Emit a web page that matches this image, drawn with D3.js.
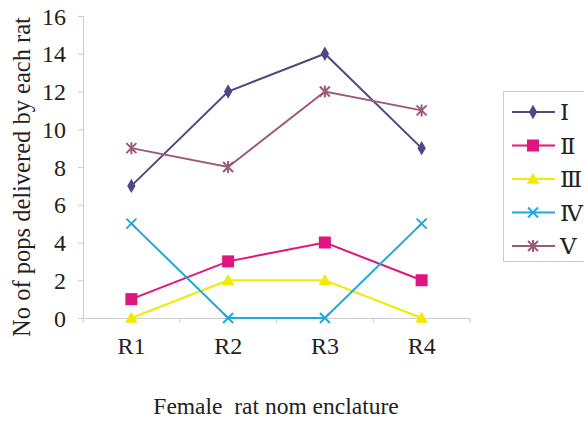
<!DOCTYPE html>
<html>
<head>
<meta charset="utf-8">
<script src="https://cdn.jsdelivr.net/npm/d3@7"></script>
<style>
  body { margin: 0; background: #fff; }
</style>
</head>
<body>
<svg width="584" height="423"></svg>
<script>
// categories along the x axis
var rats = ["R1", "R2", "R3", "R4"];
// one array per series
var seriesNames = ["Ⅰ", "Ⅱ", "Ⅲ", "Ⅳ", "Ⅴ"];
var valsI = [7, 12, 14, 9];
var valsII = [1, 3, 4, 2];
var valsIII = [0, 2, 2, 0];
var valsIV = [5, 0, 0, 5];
var valsV = [9, 8, 12, 11];
var yTicks = [0, 2, 4, 6, 8, 10, 12, 14, 16];

var colors = ["#4b4a85", "#e0157f", "#f2ea00", "#1fa8e0", "#9c5a78"];
var shapes = ["diamond", "square", "triangle", "x", "star"];
var serif = "'Liberation Serif', 'DejaVu Serif', serif";

var series = [valsI, valsII, valsIII, valsIV, valsV].map(function(v, i) {
  return {name: seriesNames[i], values: v, color: colors[i], shape: shapes[i]};
});

var svg = d3.select("svg");
var plotL = 83, plotR = 470, plotT = 16, plotB = 318;

var x = d3.scaleBand().domain(rats).range([plotL, plotR]);
var y = d3.scaleLinear().domain([0, 16]).range([plotB, plotT]);

// axes
var yAxis = svg.append("g").attr("transform", "translate(" + plotL + ",0)")
  .call(d3.axisLeft(y).tickValues(yTicks).tickSize(5).tickPadding(12));
var xAxis = svg.append("g").attr("transform", "translate(0," + plotB + ")")
  .call(d3.axisBottom(x).tickSize(0).tickPadding(19));

[yAxis, xAxis].forEach(function(a) {
  a.attr("font-family", null);
  a.select(".domain").attr("stroke", "#cccccc");
  a.selectAll(".tick line").attr("stroke", "#cccccc");
  a.selectAll("text").style("font-family", serif).style("font-size", "24px").attr("fill", "#222");
});
yAxis.selectAll("text").attr("dy", "0.34em");

// x tick marks sit at the band edges
svg.append("g").selectAll("line")
  .data(rats.map(function(r) { return x(r); }).concat([plotR]))
  .enter().append("line")
  .attr("x1", function(d) { return d; })
  .attr("x2", function(d) { return d; })
  .attr("y1", plotB).attr("y2", plotB + 5)
  .attr("stroke", "#cccccc");

function cx(i) { return x(rats[i]) + x.bandwidth() / 2; }

function marker(g, shape, color, px, py) {
  if (shape === "diamond") {
    g.append("path").attr("d", d3.symbol(d3.symbolDiamond, 60)())
      .attr("transform", "translate(" + px + "," + py + ")").attr("fill", color);
  } else if (shape === "square") {
    g.append("rect").attr("x", px - 6).attr("y", py - 6).attr("width", 12).attr("height", 12).attr("fill", color);
  } else if (shape === "triangle") {
    g.append("path").attr("d", d3.symbol(d3.symbolTriangle, 70)())
      .attr("transform", "translate(" + px + "," + (py + 1) + ")").attr("fill", color);
  } else if (shape === "x") {
    g.append("path").attr("d", "M-5,-5L5,5M-5,5L5,-5")
      .attr("transform", "translate(" + px + "," + py + ")")
      .attr("stroke", color).attr("stroke-width", 2).attr("fill", "none");
  } else {
    g.append("path").attr("d", "M-5,-5L5,5M-5,5L5,-5M0,-6L0,6")
      .attr("transform", "translate(" + px + "," + py + ")")
      .attr("stroke", color).attr("stroke-width", 2).attr("fill", "none");
  }
}

var line = d3.line()
  .x(function(d, i) { return cx(i); })
  .y(function(d) { return y(d); });

var plot = svg.append("g");
series.forEach(function(s) {
  var g = plot.append("g");
  g.append("path").datum(s.values).attr("d", line)
    .attr("fill", "none").attr("stroke", s.color).attr("stroke-width", 2);
  s.values.forEach(function(v, i) { marker(g, s.shape, s.color, cx(i), y(v)); });
});

// axis titles
svg.append("text")
  .attr("transform", "translate(30,177) rotate(-90)")
  .attr("text-anchor", "middle")
  .style("font-family", serif).style("font-size", "24.5px").attr("fill", "#222")
  .text("No of pops delivered by each rat");

svg.append("text")
  .attr("x", 276).attr("y", 414)
  .attr("text-anchor", "middle")
  .style("font-family", serif).style("font-size", "23.5px").attr("fill", "#222")
  .style("white-space", "pre")
  .text("Female  rat nom enclature");

// legend
var lg = svg.append("g");
lg.append("rect").attr("x", 503.5).attr("y", 91.5).attr("width", 100).attr("height", 170)
  .attr("fill", "#fff").attr("stroke", "#cccccc");
series.forEach(function(s, i) {
  var ly = 112 + i * 33.5;
  var g = lg.append("g");
  g.append("line").attr("x1", 512).attr("x2", 555).attr("y1", ly).attr("y2", ly)
    .attr("stroke", s.color).attr("stroke-width", 2);
  marker(g, s.shape, s.color, 533, ly);
  g.append("text").attr("x", 560).attr("y", ly).attr("dy", "0.35em")
    .style("font-family", serif).style("font-size", "23px").attr("fill", "#222")
    .text(s.name);
});
</script>
</body>
</html>
